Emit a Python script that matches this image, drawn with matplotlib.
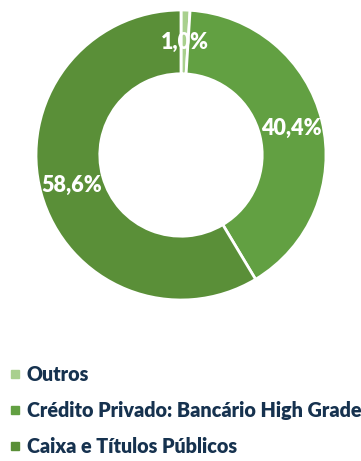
import numpy as np
import matplotlib.pyplot as plt
from matplotlib.patches import Rectangle

### allocation data
categories = ['Outros', 'Crédito Privado: Bancário High Grade', 'Caixa e Títulos Públicos']
values = [1.0, 40.4, 58.6]
labels = ['1,0%', '40,4%', '58,6%']
colors = ['#A9D08E', '#62A042', '#5A8F38']

plt.rcParams['font.family'] = ['Lato', 'DejaVu Sans']

fig = plt.figure(figsize=(3.61, 4.61), dpi=100)

### donut
ax = fig.add_axes([36 / 361, 1 - 300 / 461, 290 / 361, 290 / 461])
wedges, _ = ax.pie(values, colors=colors, startangle=90, counterclock=False,
                   radius=1.0, wedgeprops=dict(width=0.44, edgecolor='white', linewidth=2))
ax.set_aspect('equal')
ax.set_xlim(-1, 1)
ax.set_ylim(-1, 1)

start = 90.0
for v, lab in zip(values, labels):
    mid = start - v * 3.6 / 2
    start -= v * 3.6
    r = 0.78
    ax.text(r * np.cos(np.radians(mid)), r * np.sin(np.radians(mid)), lab,
            ha='center', va='center', color='white', fontsize=15.5, fontweight='heavy')

### legend
ys = [374, 410, 446]
for cat, col, y in zip(categories, colors, ys):
    fig.patches.append(Rectangle((11 / 361, 1 - (y + 4) / 461), 8 / 361, 8 / 461,
                                 transform=fig.transFigure, color=col))
    fig.text(27 / 361, 1 - y / 461, cat, ha='left', va='center', color='#16324F',
             fontsize=14.2, fontweight='heavy')

fig.savefig('out.png', dpi=100)
